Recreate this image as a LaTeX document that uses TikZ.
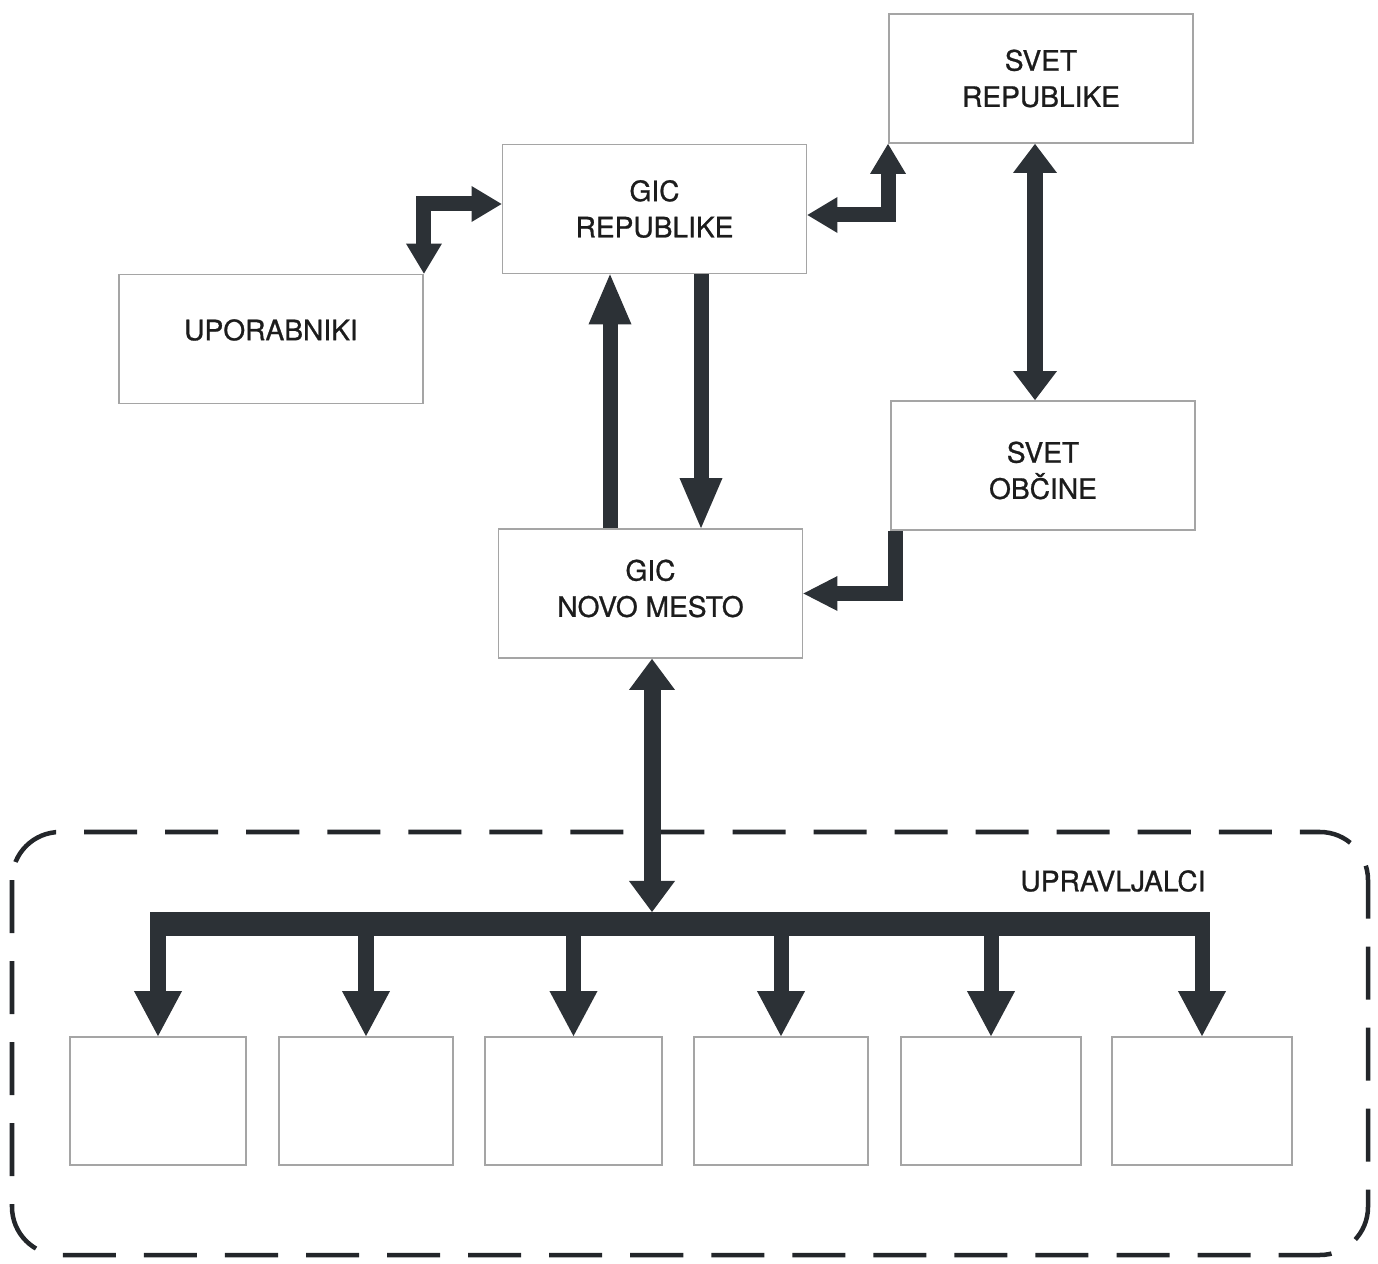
\documentclass[tikz,border=0pt]{standalone}
\usepackage{fontspec}
\setmainfont{TeX Gyre Heros}[FakeBold=0.9]
\usetikzlibrary{arrows.meta}
\definecolor{arrcol}{RGB}{44,49,54}
\definecolor{boxcol}{RGB}{165,165,165}
\definecolor{txtcol}{RGB}{28,28,28}
\definecolor{dashcol}{RGB}{35,38,42}
\newcommand{\shiftline}[2]{\raisebox{#1}[\height][\depth]{#2}}
\tikzset{
  hS/.tip={Triangle[width=0.36cm,length=0.30cm,line width=0pt]},
  hM/.tip={Triangle[width=0.44cm,length=0.29cm,line width=0pt]},
  hL/.tip={Triangle[width=0.43cm,length=0.50cm,line width=0pt]},
  hB/.tip={Triangle[width=0.46cm,length=0.31cm,line width=0pt]},
  hD/.tip={Triangle[width=0.48cm,length=0.45cm,line width=0pt]},
  hO/.tip={Triangle[width=0.35cm,length=0.34cm,line width=0pt]},
}
\begin{document}
\begin{tikzpicture}[x=0.01cm,y=-0.01cm,
  lbl/.style={text=txtcol,font=\fontsize{8pt}{10.3pt}\selectfont,align=center,inner sep=0pt},
  box/.style={lbl,draw=boxcol,line width=0.5pt,minimum width=3.04cm,minimum height=1.29cm},
  sbox/.style={draw=boxcol,line width=0.5pt,minimum height=1.28cm,inner sep=0pt},
  shaft/.style={draw=arrcol,line width=0.15cm,line cap=butt,line join=miter},
  group/.style={draw=dashcol,line width=0.045cm,dash pattern=on 0.53cm off 0.28cm,rounded corners=0.48cm}
]
\useasboundingbox (0,0) rectangle (1378,1264);

% boxes
\node[box] (svetrep) at (1041,78.5) {SVET\\REPUBLIKE};
\node[box] (gicrep) at (654.5,209) {GIC\\REPUBLIKE};
\node[box] (upor) at (271,339) {\shiftline{0.09cm}{UPORABNIKI}};
\node[box] (svetob) at (1043,465.5) {\shiftline{-0.05cm}{SVET}\\\shiftline{-0.05cm}{OBČINE}};
\node[box] (gicnm) at (650.5,593.5) {\shiftline{0.05cm}{GIC}\\\shiftline{0.05cm}{NOVO MESTO}};

% group
\draw[group] (12,832) rectangle (1368,1255);
\node[lbl] (upr) at (1113,881) {UPRAVLJALCI};

\node[sbox,minimum width=1.76cm] (u1) at (158,1101) {};
\node[sbox,minimum width=1.74cm] (u2) at (366,1101) {};
\node[sbox,minimum width=1.77cm] (u3) at (573.5,1101) {};
\node[sbox,minimum width=1.74cm] (u4) at (781,1101) {};
\node[sbox,minimum width=1.80cm] (u5) at (991,1101) {};
\node[sbox,minimum width=1.80cm] (u6) at (1202,1101) {};

% connectors
\draw[shaft,hS-hS] (upor.north east) |- (gicrep.west |- 0,204);
\draw[shaft,hS-hS] (svetrep.south west) |- (gicrep.east |- 0,215);
\draw[shaft,-hL] (gicnm.north -| 610,0) -- (gicrep.south -| 610,0);
\draw[shaft,-hL] (gicrep.south -| 701,0) -- (gicnm.north -| 701,0);
\draw[shaft,line width=0.16cm,hM-hM] (svetrep.south -| 1035,0) -- (svetob.north -| 1035,0);
\draw[shaft,-hO] (svetob.south west -| 895,0) |- (gicnm.east);

% bus
\coordinate (busL) at (150,924);
\coordinate (busR) at (1210,924);
\coordinate (busT) at (652,912);
\draw[draw=arrcol,line width=0.23cm] (busL) -- (busR);
\draw[shaft,line width=0.17cm,hB-hB] (gicnm.south -| busT) -- (busT);
\foreach \b in {u1,u2,u3,u4,u5,u6}
  \draw[shaft,-hD] (\b.north |- busL) -- (\b.north);
\end{tikzpicture}
\end{document}
